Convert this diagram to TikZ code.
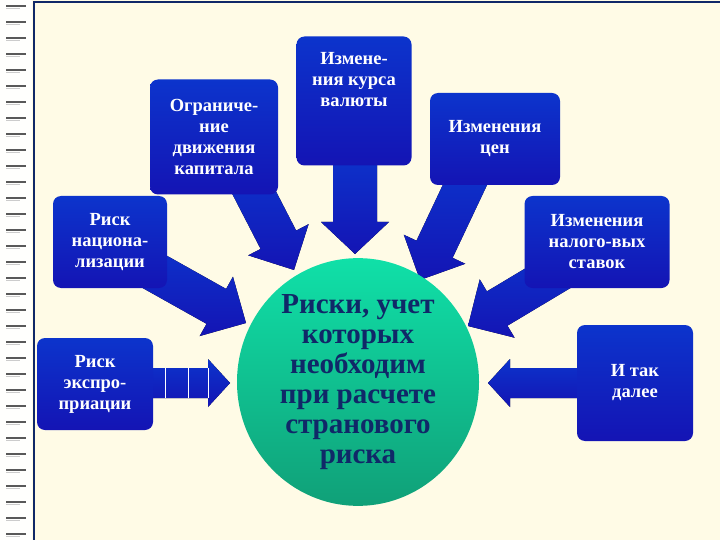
\documentclass[tikz,border=0pt]{standalone}
\usepackage{fontspec}
\setmainfont{Liberation Serif}
\usetikzlibrary{calc,shadows,shapes.geometric}
\definecolor{bg}{HTML}{FFFBE6}
\definecolor{boxA}{HTML}{0C34CC}
\definecolor{boxB}{HTML}{1414B4}
\definecolor{navy}{HTML}{102868}
\definecolor{cirA}{HTML}{10E0A8}
\definecolor{cirB}{HTML}{10A078}
\tikzset{
  box/.style={rounded corners=8pt, top color=boxA, bottom color=boxB, draw=none,
    text=white, font=\bfseries\fontsize{18.5}{21}\selectfont, align=center, inner sep=2pt},
  arrowfill/.style={top color=boxA, bottom color=boxB},
}
\newcommand\barrow[5]{\fill[arrowfill] let \p1=($(#2)-(#1)$), \n1={atan2(\y1,\x1)}, \n2={veclen(\x1,\y1)} in
  [shift={(#1)}, rotate=\n1] (0pt,-#3pt) -- (\n2-#5pt,-#3pt) -- (\n2-#5pt,-#4pt) -- (\n2,0pt) -- (\n2-#5pt,#4pt) -- (\n2-#5pt,#3pt) -- (0pt,#3pt) -- cycle;}
\begin{document}
\begin{tikzpicture}[x=1pt,y=-1pt]
\fill[bg] (0,0) rectangle (720,540);
\useasboundingbox (0,0) rectangle (720,540);
\fill[white!92!bg] (0,0) rectangle (32,540);
\foreach \y in {6,22,...,534} {
  \draw[gray!70!black, line width=2.2pt] (6,\y) -- (26,\y);
  \draw[gray!40, line width=1pt] (6,\y+2.5) -- (20,\y+2.5);
}
\draw[navy, line width=1.2pt] (34,540) -- (34,2) -- (720,2);
% coordinates
\coordinate (s1) at (245,175); \coordinate (t1) at (294,270);
\coordinate (s2) at (355,150); \coordinate (t2) at (355,254);
\coordinate (s3) at (472,170); \coordinate (t3) at (420,280);
\coordinate (s4) at (130,258); \coordinate (t4) at (246,323);
\coordinate (s5) at (575,262); \coordinate (t5) at (468,326);
\coordinate (s6) at (140,383); \coordinate (t6) at (230,383);
\coordinate (s7) at (590,383); \coordinate (t7) at (488,383);
\barrow{s1}{t1}{20}{34}{34}
\barrow{s2}{t2}{22}{34}{32}
\barrow{s3}{t3}{20}{34}{34}
\barrow{s4}{t4}{20}{34}{34}
\barrow{s5}{t5}{20}{34}{34}
\barrow{s6}{t6}{15}{24}{22}
\barrow{s7}{t7}{15}{24}{22}
\foreach \x in {165,188,208} \draw[white, line width=1pt] (\x,368) -- (\x,398);
% boxes
\node[box, minimum width=128pt, minimum height=115pt] (b1) at (214,137) {Ограниче-\\ние\\движения\\капитала};
\node[box, minimum width=115pt, minimum height=129pt] (b2) at (354,101) {Измене-\\ния курса\\валюты\\[22pt]};
\node[box, minimum width=130pt, minimum height=92pt] (b3) at (495,139) {Изменения\\цен};
\node[box, minimum width=114pt, minimum height=92pt] (b4) at (110,242) {Риск\\национа-\\лизации};
\node[box, minimum width=145pt, minimum height=92pt] (b5) at (597,242) {Изменения\\налого-вых\\ставок};
\node[box, minimum width=116pt, minimum height=92pt] (b6) at (95,384) {Риск\\экспро-\\приации};
\node[box, minimum width=116pt, minimum height=116pt] (b7) at (635,383) {И так\\далее};
% circle
\node[ellipse, minimum width=242pt, minimum height=214pt, top color=cirA, bottom color=cirB,
  text=navy, font=\bfseries\fontsize{29}{30}\selectfont, align=center, inner sep=0pt] (c) at (358,382)
  {Риски, учет\\которых\\необходим\\при расчете\\странового\\риска};
\end{tikzpicture}
\end{document}
